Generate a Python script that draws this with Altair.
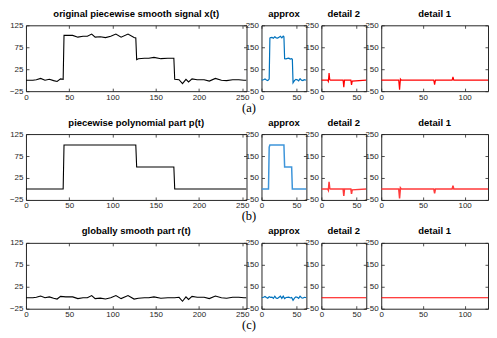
import altair as alt
import pandas as pd

# ---------------- data ----------------
# row (a): original piecewise smooth signal x(t)
x_t = [0, 8, 12, 17, 22, 27, 32, 36, 40, 43, 44, 46, 54, 60, 66, 71, 76, 80, 86, 92,
       98, 104, 110, 118, 125, 127, 128, 130, 137, 142, 148, 156, 164, 171, 172, 177,
       181, 185, 188, 192, 198, 206, 212, 219, 226, 232, 239, 246, 252, 255]
x_v = [0, 0, 1, 4, 0, 2, -1, -3, 3, 2, 102, 102, 102, 98, 100, 100, 105, 98, 99, 97,
       100, 105, 98, 105, 97, 96, 47, 49, 50, 50, 52, 49, 50, 50, 2, 1,
       -8, 2, -4, 3, 1, 1, -2, 4, 0, -1, 1, 1, 0, 0]

# row (b): piecewise polynomial part p(t)
p_t = [0, 43, 44, 127, 128, 171, 172, 255]
p_v = [0, 0, 100, 100, 50, 50, 0, 0]

# row (c): globally smooth part r(t)
r_t = [0, 8, 12, 17, 22, 27, 32, 36, 40, 46, 54, 60, 66, 71, 76, 80, 86, 92, 98, 104,
       110, 118, 125, 130, 137, 142, 148, 156, 164, 172, 177, 181, 185, 188, 192, 198,
       206, 212, 219, 226, 232, 239, 246, 252, 255]
r_v = [0, 0, 1, 4, 0, 2, -1, -3, 3, 2, 2, -2, 0, 0, 5, -2, -1, -3, 0, 5,
       -2, 5, -3, -1, 0, 0, 2, -1, 0, 0, 1, -8, 2, -4, 3, 1,
       1, -2, 4, 0, -1, 1, 1, 0, 0]

# approximation coefficients
ax_t = [0, 3, 5, 7, 9, 11, 12, 13, 15, 17, 19, 21, 23, 25, 27, 29, 31, 32, 33, 35,
        37, 39, 41, 43, 44, 45, 47, 49, 51, 53, 55, 57, 59, 61, 63, 64]
ax_v = [0, 2, 6, 1, -2, 5, 192, 194, 195, 191, 198, 193, 192, 196, 200, 193, 201, 198, 98, 97,
        99, 100, 96, 98, 95, -12, -2, 4, 2, -3, 7, 0, -2, 2, 1, 0]
ap_t = [0, 10, 11, 12, 32, 33, 43, 44, 64]
ap_v = [0, 0, 190, 200, 200, 100, 100, 0, 0]
ar_t = [0, 3, 5, 7, 9, 11, 13, 15, 17, 19, 21, 23, 25, 27, 29, 31, 33, 35, 37, 39,
        41, 43, 45, 47, 49, 51, 53, 55, 57, 59, 61, 63, 64]
ar_v = [0, 2, 6, 1, -2, 5, 2, 3, -3, 7, -2, -3, 2, 7, -3, 7, -4, 1, 2, 3,
        -1, 1, -12, -2, 4, 2, -3, 7, 0, -2, 2, 1, 0]

# detail coefficients (level 2 and level 1)
d2_t = [0, 9, 10, 11, 12, 13, 31, 32, 33, 42, 43, 44, 64]
d2_v = [0, 0, -6, 33, 2, 0, 0, -32, 0, 0, -22, -4, 0]
d1_t = [0, 21, 22, 23, 24, 63, 64, 65, 85, 86, 87, 128]
d1_v = [0, 0, -43, 5, 0, 0, -20, 0, 0, 15, 0, 0]
d2z_t = [0, 64]
d2z_v = [0, 0]
d1z_t = [0, 128]
d1z_v = [0, 0]

left_titles = ["original piecewise smooth signal x(t)",
               "piecewise polynomial part p(t)",
               "globally smooth part r(t)"]
small_titles = ["approx", "detail 2", "detail 1"]
row_labels = ["(a)", "(b)", "(c)"]

left_xticks = [0, 50, 100, 150, 200, 250]
left_yticks = [-25, 25, 75, 125]
coef_yticks = [-50, 50, 150, 250]

H = 66


def panel(t, v, xdom, ydom, xticks, yticks, color, width, title, sw=1.2):
    df = pd.DataFrame({"t": t, "v": v})
    xs = alt.Scale(domain=xdom, nice=False, zero=False)
    ys = alt.Scale(domain=ydom, nice=False, zero=False)
    base = alt.Chart(df)
    main = base.mark_line(color=color, strokeWidth=sw, clip=True).encode(
        x=alt.X("t:Q", scale=xs, axis=alt.Axis(orient="bottom", values=xticks, title=None)),
        y=alt.Y("v:Q", scale=ys, axis=alt.Axis(orient="left", values=yticks, title=None)),
    )
    ghost = base.mark_line(opacity=0).encode(
        x=alt.X("t:Q", scale=xs, axis=alt.Axis(orient="top", values=xticks, labels=False, title=None)),
        y=alt.Y("v:Q", scale=ys, axis=alt.Axis(orient="right", values=yticks, labels=False, title=None)),
    )
    return alt.layer(main, ghost).resolve_axis(x="independent", y="independent").properties(
        width=width, height=H,
        title=alt.Title(title, anchor="middle", frame="group", offset=3),
    )


rows_data = [
    ((x_t, x_v), (ax_t, ax_v, "#0072BD", 1.2), (d2_t, d2_v, "#FF0000", 1.2), (d1_t, d1_v, "#FF0000", 1.2)),
    ((p_t, p_v), (ap_t, ap_v, "#3E95DA", 1.5), (d2_t, d2_v, "#FF3A3A", 1.5), (d1_t, d1_v, "#FF3A3A", 1.5)),
    ((r_t, r_v), (ar_t, ar_v, "#0072BD", 1.2), (d2z_t, d2z_v, "#FF0000", 1.2), (d1z_t, d1z_v, "#FF0000", 1.2)),
]

rows = []
for i, (sig, apx, det2, det1) in enumerate(rows_data):
    p0 = panel(sig[0], sig[1], [0, 255], [-25, 125], left_xticks, left_yticks, "#000000", 221, left_titles[i], 1.1)
    p1 = panel(apx[0], apx[1], [0, 64], [-50, 250], [0, 50], coef_yticks, apx[2], 45, small_titles[0], apx[3])
    p2 = panel(det2[0], det2[1], [0, 64], [-50, 250], [0, 50], coef_yticks, det2[2], 45, small_titles[1], det2[3])
    p3 = panel(det1[0], det1[1], [0, 128], [-50, 250], [0, 50, 100], coef_yticks, det1[2], 107, small_titles[2], det1[3])
    row = alt.HConcatChart(
        hconcat=[p0, p1, p2, p3], spacing=15, bounds="flush",
        title=alt.Title(row_labels[i], orient="bottom", anchor="middle", font="Liberation Serif",
                        fontSize=12.5, fontWeight="normal", offset=0, color="#000000"),
    )
    rows.append(row)

chart = alt.VConcatChart(vconcat=rows, spacing=109, bounds="flush").properties(
    padding=0, background="white"
).configure_view(
    stroke="#262626", strokeWidth=1
).configure_axis(
    domain=False, grid=False, ticks=True, tickSize=3, tickColor="#262626", tickWidth=0.8,
    offset=-3, labelFont="Liberation Sans", labelFontSize=8, labelColor="#262626",
    labelFlush=False, labelOverlap=False,
).configure_axisX(labelPadding=2).configure_axisY(labelPadding=3).configure_title(
    font="Liberation Sans", fontSize=9.5, fontWeight="bold", color="#000000"
)

chart.save("out.html", embed_options={"renderer": "svg", "actions": False})
